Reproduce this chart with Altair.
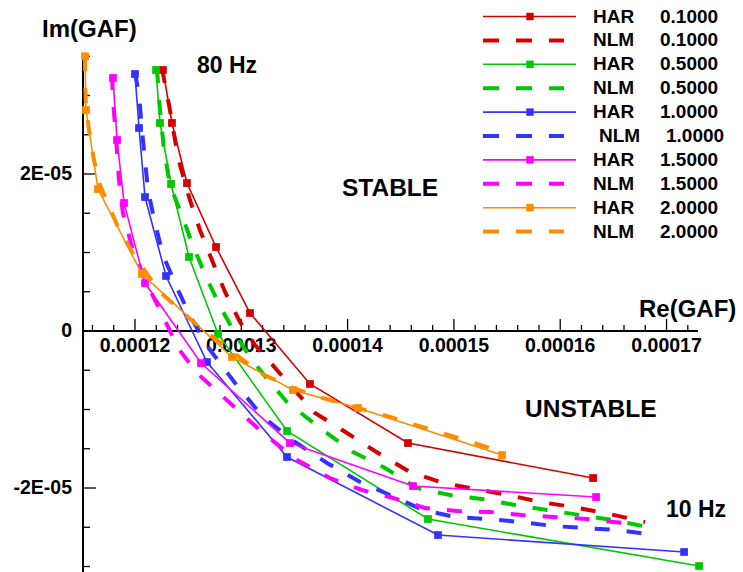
import altair as alt
import numpy as np
import pandas as pd

# ---------------------------------------------------------------------------
# Generalized aerodynamic force, Re vs Im, 80 Hz (top) down to 10 Hz
# HAR = harmonic balance results (8 frequencies), NLM = nonlinear model sweep
# ---------------------------------------------------------------------------
amplitudes = ["0.1000", "0.5000", "1.0000", "1.5000", "2.0000"]
colors = ["#d40000", "#00c800", "#3333ff", "#ff00ff", "#ff8c00"]

har_re_01 = [12.263e-5, 12.348e-5, 12.489e-5, 12.762e-5, 13.082e-5, 13.646e-5, 14.568e-5, 16.309e-5]
har_im_01 = [3.325e-5, 2.650e-5, 1.885e-5, 1.070e-5, 0.229e-5, -0.675e-5, -1.427e-5, -1.873e-5]

har_re_05 = [12.198e-5, 12.235e-5, 12.339e-5, 12.508e-5, 12.781e-5, 13.430e-5, 14.756e-5, 17.306e-5]
har_im_05 = [3.325e-5, 2.650e-5, 1.873e-5, 0.943e-5, -0.038e-5, -1.274e-5, -2.395e-5, -2.994e-5]

har_re_10 = [12.000e-5, 12.038e-5, 12.094e-5, 12.292e-5, 12.677e-5, 13.430e-5, 14.850e-5, 17.165e-5]
har_im_10 = [3.274e-5, 2.586e-5, 1.707e-5, 0.701e-5, -0.395e-5, -1.605e-5, -2.599e-5, -2.815e-5]

har_re_15 = [11.793e-5, 11.831e-5, 11.897e-5, 12.094e-5, 12.621e-5, 13.458e-5, 14.615e-5, 16.337e-5]
har_im_15 = [3.223e-5, 2.433e-5, 1.631e-5, 0.611e-5, -0.408e-5, -1.427e-5, -1.975e-5, -2.115e-5]

har_re_20 = [11.530e-5, 11.539e-5, 11.652e-5, 12.066e-5, 12.913e-5, 13.486e-5, 14.098e-5, 15.453e-5]
har_im_20 = [3.500e-5, 2.815e-5, 1.809e-5, 0.726e-5, -0.331e-5, -0.752e-5, -0.981e-5, -1.580e-5]

nlm_re_01 = [12.254e-5, 12.329e-5, 12.405e-5, 12.517e-5, 12.611e-5, 12.724e-5, 12.847e-5, 12.988e-5,
             13.129e-5, 13.270e-5, 13.458e-5, 13.693e-5, 13.994e-5, 14.286e-5, 14.587e-5, 14.897e-5,
             15.198e-5, 15.509e-5, 15.810e-5, 16.120e-5, 16.421e-5, 16.798e-5]
nlm_im_01 = [3.350e-5, 2.815e-5, 2.204e-5, 1.669e-5, 1.287e-5, 0.904e-5, 0.497e-5, 0.115e-5,
             -0.178e-5, -0.395e-5, -0.688e-5, -1.045e-5, -1.299e-5, -1.554e-5, -1.796e-5, -1.936e-5,
             -2.013e-5, -2.089e-5, -2.178e-5, -2.242e-5, -2.318e-5, -2.433e-5]

nlm_re_05 = [12.207e-5, 12.235e-5, 12.273e-5, 12.329e-5, 12.433e-5, 12.536e-5, 12.668e-5, 12.809e-5,
             12.960e-5, 13.101e-5, 13.251e-5, 13.430e-5, 13.740e-5, 14.051e-5, 14.352e-5, 14.653e-5,
             14.963e-5, 15.264e-5, 15.575e-5, 15.876e-5, 16.186e-5, 16.487e-5, 16.826e-5]
nlm_im_05 = [3.350e-5, 2.815e-5, 2.306e-5, 1.860e-5, 1.503e-5, 1.121e-5, 0.688e-5, 0.293e-5,
             -0.076e-5, -0.369e-5, -0.624e-5, -0.904e-5, -1.236e-5, -1.541e-5, -1.745e-5, -2.000e-5,
             -2.089e-5, -2.140e-5, -2.217e-5, -2.280e-5, -2.344e-5, -2.408e-5, -2.497e-5]

nlm_re_10 = [12.000e-5, 12.038e-5, 12.066e-5, 12.094e-5, 12.122e-5, 12.188e-5, 12.263e-5, 12.405e-5,
             12.527e-5, 12.706e-5, 12.941e-5, 13.204e-5, 13.505e-5, 13.806e-5, 14.117e-5, 14.399e-5,
             14.709e-5, 15.010e-5, 15.321e-5, 15.622e-5, 15.932e-5, 16.233e-5, 16.534e-5, 16.892e-5]
nlm_im_10 = [3.299e-5, 3.006e-5, 2.561e-5, 2.178e-5, 1.796e-5, 1.376e-5, 0.968e-5, 0.522e-5,
             0.166e-5, -0.242e-5, -0.662e-5, -1.096e-5, -1.414e-5, -1.682e-5, -1.924e-5, -2.089e-5,
             -2.280e-5, -2.369e-5, -2.395e-5, -2.433e-5, -2.484e-5, -2.510e-5, -2.535e-5, -2.599e-5]

nlm_re_15 = [11.784e-5, 11.793e-5, 11.812e-5, 11.831e-5, 11.849e-5, 11.887e-5, 11.972e-5, 12.103e-5,
             12.235e-5, 12.405e-5, 12.583e-5, 12.894e-5, 13.204e-5, 13.524e-5, 13.834e-5, 14.135e-5,
             14.427e-5, 14.728e-5, 15.029e-5, 15.340e-5, 15.641e-5, 15.932e-5, 16.252e-5, 16.591e-5]
nlm_im_15 = [3.261e-5, 2.943e-5, 2.624e-5, 2.280e-5, 1.924e-5, 1.503e-5, 1.070e-5, 0.624e-5,
             0.268e-5, -0.217e-5, -0.535e-5, -0.917e-5, -1.299e-5, -1.643e-5, -1.873e-5, -2.025e-5,
             -2.127e-5, -2.255e-5, -2.293e-5, -2.306e-5, -2.344e-5, -2.369e-5, -2.395e-5, -2.446e-5]

nlm_re_20 = [11.530e-5, 11.530e-5, 11.539e-5, 11.567e-5, 11.614e-5, 11.671e-5, 11.840e-5, 12.000e-5,
             12.235e-5, 12.583e-5, 12.894e-5, 13.176e-5, 13.486e-5, 13.769e-5, 14.098e-5, 14.399e-5,
             14.700e-5, 15.010e-5, 15.311e-5, 15.434e-5]
nlm_im_20 = [3.500e-5, 3.197e-5, 2.879e-5, 2.561e-5, 2.178e-5, 1.860e-5, 1.325e-5, 0.943e-5,
             0.497e-5, 0.076e-5, -0.242e-5, -0.535e-5, -0.726e-5, -0.854e-5, -0.981e-5, -1.096e-5,
             -1.223e-5, -1.350e-5, -1.478e-5, -1.541e-5]

har_re = [har_re_01, har_re_05, har_re_10, har_re_15, har_re_20]
har_im = [har_im_01, har_im_05, har_im_10, har_im_15, har_im_20]
nlm_re = [nlm_re_01, nlm_re_05, nlm_re_10, nlm_re_15, nlm_re_20]
nlm_im = [nlm_im_01, nlm_im_05, nlm_im_10, nlm_im_15, nlm_im_20]

# axis ticks and labels
x_major = [12e-5, 13e-5, 14e-5, 15e-5, 16e-5, 17e-5]
x_labels = ["0.00012", "0.00013", "0.00014", "0.00015", "0.00016", "0.00017"]
y_major = [-2e-5, 0.0, 2e-5]
y_labels = ["-2E-05", "0", "2E-05"]

x_domain = [11.511e-5, 17.296e-5]
y_domain = [-3.070e-5, 3.516e-5]

# ---------------------------------------------------------------------------
W, H = 615, 517
FONT = "Liberation Sans"
xs = alt.Scale(domain=x_domain, nice=False, zero=False)
ys = alt.Scale(domain=y_domain, nice=False, zero=False)


def xy():
    return dict(
        x=alt.X("re:Q", scale=xs, axis=None),
        y=alt.Y("im:Q", scale=ys, axis=None),
    )


layers = []

# axis lines (x axis drawn through Im = 0)
layers.append(
    alt.Chart(pd.DataFrame({"z": [0.0]})).mark_rule(color="black", strokeWidth=2).encode(
        x=alt.value(0), x2=alt.value(W), y=alt.Y("z:Q", scale=ys, axis=None)
    )
)
layers.append(
    alt.Chart(pd.DataFrame({"z": [0.0]})).mark_rule(color="black", strokeWidth=2).encode(
        x=alt.value(0), y=alt.value(0), y2=alt.value(H)
    )
)

# tick marks
x_all = np.round(np.arange(11.6, 17.21, 0.2), 1) * 1e-5
x_minor = [v for v in x_all if min(abs(v - m) for m in x_major) > 1e-9]
y_all = np.round(np.arange(-3.0, 3.51, 0.5), 1) * 1e-5
y_minor = [v for v in y_all if min(abs(v - m) for m in y_major) > 1e-9]

for vals, size in [(x_major, 12), (x_minor, 6)]:
    layers.append(
        alt.Chart(pd.DataFrame({"re": vals, "im": 0.0})).mark_tick(
            orient="vertical", size=size, thickness=1.3, yOffset=-size / 2, color="black", opacity=1
        ).encode(**xy())
    )
for vals, size in [(y_major, 13), (y_minor, 7)]:
    layers.append(
        alt.Chart(pd.DataFrame({"im": vals})).mark_tick(
            orient="horizontal", size=size, thickness=1.3, xOffset=size / 2, color="black", opacity=1
        ).encode(x=alt.value(0), y=alt.Y("im:Q", scale=ys, axis=None))
    )

# tick labels
layers.append(
    alt.Chart(pd.DataFrame({"re": x_major, "im": 0.0, "lab": x_labels})).mark_text(
        font=FONT, fontSize=19.5, fontWeight="bold", align="center", baseline="alphabetic", dy=21, color="black"
    ).encode(text="lab:N", **xy())
)
layers.append(
    alt.Chart(pd.DataFrame({"im": y_major, "lab": y_labels})).mark_text(
        font=FONT, fontSize=19.5, fontWeight="bold", align="right", baseline="middle", color="black"
    ).encode(x=alt.value(-11), y=alt.Y("im:Q", scale=ys, axis=None), text="lab:N")
)

# data series, drawn in order: HAR then NLM for each amplitude
for i in range(len(amplitudes)):
    har = pd.DataFrame({"re": har_re[i], "im": har_im[i], "k": range(len(har_re[i]))})
    nlm = pd.DataFrame({"re": nlm_re[i], "im": nlm_im[i], "k": range(len(nlm_re[i]))})
    c = colors[i]
    layers.append(
        alt.Chart(har).mark_line(color=c, strokeWidth=1.6).encode(order="k:Q", **xy())
    )
    layers.append(
        alt.Chart(har).mark_square(color=c, size=60, opacity=1).encode(**xy())
    )
    layers.append(
        alt.Chart(nlm).mark_line(color=c, strokeWidth=4, strokeDash=[15, 17], strokeCap="butt").encode(
            order="k:Q", **xy()
        )
    )

# legend (top right)
rows = []
for i, amp in enumerate(amplitudes):
    rows.append({"row": 2 * i, "name": "HAR", "amp": amp, "color": colors[i], "kind": "HAR"})
    rows.append({"row": 2 * i + 1, "name": "NLM", "amp": amp, "color": colors[i], "kind": "NLM"})
leg = pd.DataFrame(rows)
leg["py"] = -38.5 + 23.9 * leg["row"]
# the NLM 1.0000 entry sits a few pixels further right
leg["shift"] = np.where((leg.kind == "NLM") & (leg.amp == "1.0000"), 6, 0)
leg["nx"] = 510 + leg["shift"]
leg["ax"] = 577 + leg["shift"]
leg_har = leg[leg.kind == "HAR"]
leg_nlm = leg[leg.kind == "NLM"]
py = alt.Y("py:Q", scale=None)
col = alt.Color("color:N", scale=None)

layers.append(
    alt.Chart(leg_har).mark_rule(strokeWidth=1.6).encode(x=alt.value(400), x2=alt.value(493), y=py, color=col)
)
layers.append(
    alt.Chart(leg_har).mark_square(size=55, opacity=1).encode(x=alt.value(447), y=py, color=col, fill=col)
)
layers.append(
    alt.Chart(leg_nlm).mark_rule(strokeWidth=4, strokeDash=[16, 17], strokeCap="butt").encode(
        x=alt.value(400), x2=alt.value(481), y=py, color=col
    )
)
layers.append(
    alt.Chart(leg).mark_text(font=FONT, fontSize=19, fontWeight="bold", align="left", baseline="middle",
                             color="black").encode(x=alt.X("nx:Q", scale=None), y=py, text="name:N")
)
layers.append(
    alt.Chart(leg).mark_text(font=FONT, fontSize=19, fontWeight="bold", align="left", baseline="middle",
                             color="black").encode(x=alt.X("ax:Q", scale=None), y=py, text="amp:N")
)


# annotations
def note(text, px, py_, size):
    return alt.Chart(pd.DataFrame({"t": [text]})).mark_text(
        font=FONT, fontSize=size, fontWeight="bold", align="left", baseline="middle", color="black"
    ).encode(x=alt.value(px), y=alt.value(py_), text="t:N")


layers.append(note("Im(GAF)", -41, -25, 24))
layers.append(note("Re(GAF)", 556, 255, 24))
layers.append(note("80 Hz", 114, 11, 23))
layers.append(note("STABLE", 259, 134, 24.5))
layers.append(note("UNSTABLE", 442, 355, 24.5))
layers.append(note("10 Hz", 583, 455, 23))

chart = alt.layer(*layers).properties(
    width=W,
    height=H,
    padding={"left": 83, "top": 55, "right": 45, "bottom": 0},
    autosize=alt.AutoSizeParams(type="none"),
).configure_view(stroke=None)

chart.save("out.html", embed_options={"renderer": "svg", "actions": False})
